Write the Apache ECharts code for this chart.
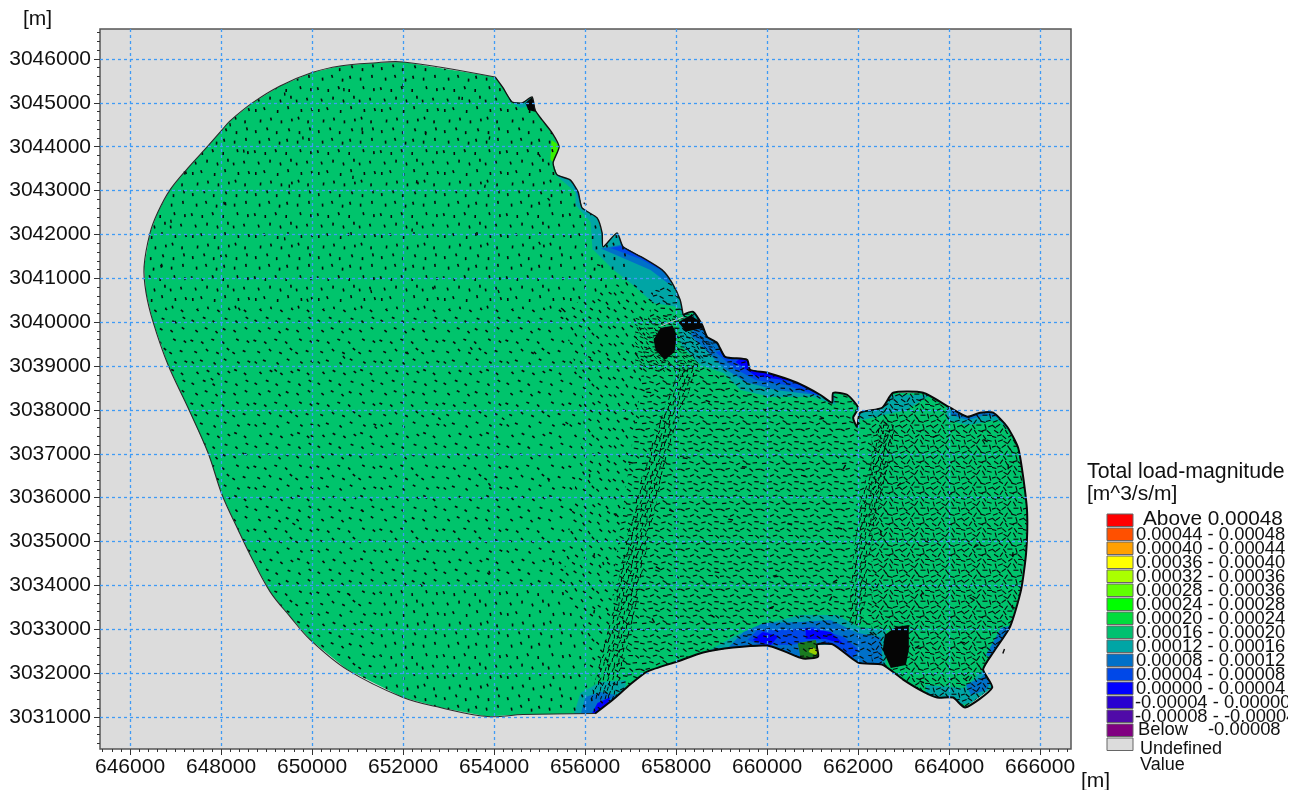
<!DOCTYPE html>
<html><head><meta charset="utf-8">
<style>html,body{margin:0;padding:0;background:#fff}#c{width:1298px;height:790px;filter:blur(0.35px)}</style>
<script src="https://cdn.jsdelivr.net/npm/echarts@6/dist/echarts.min.js"></script>
</head><body><div id="c"></div>
<script>
const xTicks=[646000,648000,650000,652000,654000,656000,658000,660000,662000,664000,666000];
const yTicks=[3031000,3032000,3033000,3034000,3035000,3036000,3037000,3038000,3039000,3040000,3041000,3042000,3043000,3044000,3045000,3046000];
const legendLabels=['0.00044 - 0.00048','0.00040 - 0.00044','0.00036 - 0.00040','0.00032 - 0.00036','0.00028 - 0.00036','0.00024 - 0.00028','0.00020 - 0.00024','0.00016 - 0.00020','0.00012 - 0.00016','0.00008 - 0.00012','0.00004 - 0.00008','0.00000 - 0.00004','-0.00004 - 0.00000','-0.00008 - -0.00004'];
const legendColors=['#FF0000','#FF5000','#FFA000','#FFFF00','#AAFF00','#60FF00','#00FF00','#00DC3C','#00C070','#00A5A5','#0070C8','#0048E8','#0000FF','#2800D0','#500AA8','#800080','#DCDCDC'];
const C_MAIN='#00C46C',C_TEAL='#00A5A5',C_B70='#0070C8',C_B48='#0048E8',C_B00='#0000FF';

const westCoast=[[654023,3045590],[652001,3045932],[651341,3045909],[650616,3045841],[650000,3045690],[649297,3045385],[648704,3045010],[648198,3044590],[648022,3044383],[647714,3044018],[647275,3043517],[646879,3043016],[646615,3042515],[646440,3042036],[646308,3041262],[646352,3040669],[646506,3040009],[646835,3039029],[647275,3038050],[647714,3037025],[648022,3036068],[648374,3035271],[648638,3034701],[649077,3033858],[649517,3033289],[649956,3032765],[650770,3032081],[652001,3031444],[652814,3031216],[653847,3031011],[654638,3031056],[656221,3031079]];
const southCoast=[[656221,3031079],[656616,3031398],[656990,3031740],[657364,3032036],[658023,3032264],[658595,3032469],[659254,3032583],[660001,3032628],[660397,3032491],[660793,3032332],[661122,3032378],[661100,3032651],[661452,3032651],[662001,3032241],[662529,3032195],[662991,3031854],[663431,3031580],[663739,3031444],[664091,3031444],[664353,3031216],[664947,3031671],[664749,3032081],[664969,3032469],[665342,3033061],[665584,3033904],[665694,3034747],[665716,3035658],[665628,3036478],[665518,3037139],[665277,3037617],[664969,3037936],[664683,3037936],[664397,3037845],[664024,3038050],[663431,3038391],[662771,3038391],[662529,3038050],[662045,3037936],[661979,3037617],[661892,3037822],[662001,3038050],[661760,3038346],[661452,3038391],[661430,3038164],[661166,3038346],[660661,3038619],[660001,3038847],[659628,3038915],[659562,3039143],[659078,3039212],[658902,3039530],[658682,3039667],[658572,3039941],[658375,3040237],[658155,3040168]];
const northCoast=[[658155,3040168],[658089,3040510],[657913,3040897],[657693,3041193],[657276,3041467],[656836,3041717],[656704,3042036],[656397,3041717],[656375,3042036],[656265,3042378],[655935,3042606],[655847,3042970],[655671,3043244],[655385,3043358],[655298,3043631],[655429,3043995],[655276,3044314],[655056,3044610],[654902,3044838],[654836,3045134],[654616,3044998],[654396,3045020],[654199,3045339],[654023,3045590]];

const coastBands=[
 [C_TEAL,[[656186,3041645],[656626,3041190],[657000,3040894],[657506,3040438],[658034,3040346],[658166,3040095],[658540,3040505],[658100,3041873],[656340,3041987]]],
 [C_B70,[[656274,3041714],[656934,3041417],[657440,3041189],[657814,3040893],[658320,3040961],[657660,3041873],[656560,3042101]]],
 [C_B48,[[656560,3041691],[657220,3041440],[657660,3041189],[658100,3041189],[657440,3041873]]],
 [C_TEAL,[[655350,3043355],[655790,3042968],[655790,3042671],[656120,3042284],[656164,3041645],[656780,3041759],[656560,3042671],[656120,3043469]]],
 [C_B70,[[655724,3043173],[655900,3042717],[656230,3042785],[656010,3043355]]],
 [C_TEAL,[[654316,3045065],[654580,3044883],[654800,3044929],[654800,3045293],[654470,3045293]]],
 [C_TEAL,[[658056,3040004],[658100,3039479],[658540,3039024],[659046,3038841],[659420,3038454],[660080,3038294],[661004,3038294],[661510,3038111],[661400,3038909],[659420,3039593],[658540,3040277]]],
 [C_B70,[[658320,3039707],[658650,3039365],[659046,3038955],[659530,3038636],[660190,3038453],[661070,3038339],[661400,3038909],[659420,3039593],[658540,3040163]]],
 [C_B48,[[658870,3039319],[659266,3038955],[659750,3038682],[660410,3038568],[661136,3038316],[661400,3038909],[659640,3039479]]],
 [C_B00,[[659310,3039092],[659750,3038773],[660520,3038659],[661136,3038362],[661290,3038681],[659640,3039365]]],
 [C_TEAL,[[658540,3032411],[659420,3032913],[660014,3033141],[660740,3033323],[661554,3033323],[661994,3033050],[662610,3032982],[662610,3032069],[658540,3031841]]],
 [C_B70,[[659090,3032526],[659486,3032936],[659926,3033141],[660740,3033164],[661400,3033209],[661994,3032913],[662500,3032822],[662544,3032115],[659090,3031841]]],
 [C_B48,[[659574,3032753],[659794,3032981],[660300,3032981],[661026,3033050],[661686,3032822],[662016,3032525],[661840,3032297],[661180,3032753],[660520,3032640],[659860,3032640]]],
 [C_B00,[[659684,3032753],[659904,3032936],[660256,3032845],[660080,3032640]]],
 [C_B00,[[660850,3033027],[661400,3032936],[661700,3032650],[661290,3032780],[660850,3032780]]],
 [C_TEAL,[[655746,3031043],[655900,3031545],[656340,3031796],[656890,3031841],[656890,3030929]]],
 [C_B70,[[655900,3031043],[656010,3031454],[656340,3031568],[656670,3031500],[656450,3030929]]],
 [C_B00,[[656120,3031020],[656274,3031317],[656560,3031454],[656340,3030929]]],
 [C_TEAL,[[663490,3031727],[664326,3031659],[664700,3032024],[664920,3032298],[665140,3032184],[664920,3031386],[663490,3031158]]],
 [C_B70,[[664370,3031727],[664700,3031887],[664920,3032184],[665096,3032115],[664810,3031613],[664480,3031500]]],
 [C_TEAL,[[663952,3037769],[664414,3037656],[665074,3037769],[665360,3037473],[665470,3037769],[664920,3038225],[663930,3038339]]],
 [C_B70,[[664040,3037883],[664414,3037769],[664810,3037883],[665140,3037815],[665250,3038111],[664040,3038225]]],
 [C_TEAL,[[662104,3037770],[663050,3037997],[663600,3038339],[662500,3038339],[661950,3037883]]],
 [C_B70,[[665404,3033095],[665140,3033027],[664810,3032412],[665030,3032298]]],
 ['#38F000',[[655262,3044153],[655460,3044017],[655372,3043584],[655240,3043700]]],
 ['#1A7A20',[[660674,3032685],[661070,3032753],[661180,3032297],[660740,3032342]]],
 ['#9ACD00',[[660960,3032594],[661136,3032525],[661070,3032411],[660916,3032480]]]
];
const denseBlots=[
 [[657506,3039600],[657660,3039870],[657924,3039916],[658012,3039710],[657968,3039320],[657748,3039140],[657550,3039370]],
 [[658056,3040004],[658320,3040160],[658540,3040004],[658584,3039870],[658210,3039780]],
 [[662588,3032867],[662830,3033050],[663116,3033096],[663116,3032525],[663050,3032183],[662720,3032115],[662544,3032525]],
 [[654690,3044998],[654836,3045134],[654924,3044792],[654750,3044837]]
];
const seamLine=[[657660,3039914],[658166,3040120]];

/* hatch zones: polygon, tile scale, dash length, base angle, angle-spread list */
const calm=[0,8,-6,12,-10,4,-3,9,-12,6,-5];
const mix=[0,15,-12,25,-20,8,-30,18,-8,35,-22];
const wild=[0,30,-25,50,-40,15,-60,35,-18,70,-45];
const hatchZones=[
 {pts:[[645000,3046500],[657000,3046500],[657000,3041000],[655500,3040300],[645000,3040300]],s:0.95,len:3,a:98,sp:calm,w:1.6},
 {pts:[[645000,3040300],[655500,3040300],[656000,3038000],[655500,3034000],[651500,3034000],[651500,3030500],[645000,3030500]],s:0.95,len:3,a:145,sp:calm,w:1.6},
 {pts:[[651500,3034000],[655500,3034000],[656000,3033000],[656300,3030500],[651500,3030500]],s:0.95,len:3,a:105,sp:calm,w:1.6},
 {pts:[[655500,3040300],[657000,3041000],[657500,3040700],[657000,3037000],[656600,3034000],[656700,3030500],[656300,3030500],[656000,3033000],[655500,3034000],[656000,3038000]],s:0.78,len:3.5,a:135,sp:calm,w:1.4},
 {pts:[[657500,3040700],[658000,3041000],[662300,3038800],[662300,3030500],[656700,3030500],[656600,3034000],[657000,3037000]],s:0.6,len:4.5,a:170,sp:mix,w:1.2},
 {pts:[[662300,3038800],[666500,3038800],[666500,3030500],[662300,3030500]],s:0.47,len:5,a:165,sp:wild,w:1.1},
 {pts:[[658100,3039032],[658496,3039032],[657836,3037096],[657440,3035272],[657110,3033448],[656670,3031398],[656120,3031398],[656604,3033448],[656956,3035272],[657396,3037096]],s:0.42,len:4,a:75,sp:calm,w:1},
 {pts:[[662456,3037656],[662830,3037656],[662500,3035956],[662236,3034588],[662104,3033106],[661796,3033106],[661884,3034588],[662060,3035956]],s:0.42,len:4,a:75,sp:calm,w:1},
 {pts:[[657100,3040100],[658500,3040200],[658900,3039300],[658100,3038800],[657100,3039000]],s:0.42,len:4,a:150,sp:mix,w:1}
];
const hatchSpots=[[4,6],[16,3],[26,7],[39,4],[50,7],[61,3],[8,17],[18,14],[29,18],[37,15],[48,17],[60,14],[3,27],[14,29],[25,26],[36,29],[51,26],[62,28],[7,39],[19,37],[30,40],[41,36],[47,40],[58,38],[4,50],[13,48],[27,51],[38,47],[52,50],[63,49],[9,61],[20,59],[31,62],[42,60],[49,58],[59,62]];

/* sparse hand-read vector samples: x, y, screen angle in degrees */
const vecX=[648200,649400,650700,652000,653300,647200,648500,649800,651100,652500,653900,655000,646900,648100,649500,650900,652300,653800,655200,656000,646700,648000,649400,650800,652200,653600,655000,656300,647000,648400,649900,651300,652700,654100,655500,647800,649200,650700,652100,653500,654900,656100,648500,650000,651400,652800,654200,655600,656900,649600,651100,652500,653900,655200,656100,650800,652400,653900,655300,656200,657400,658700,660000,661200,657000,658200,659500,660800,661700,656700,657900,659200,660500,661600,656400,657600,658900,660200,661500,656200,657500,658800,660100,661400,662600,663700,664800,665300,662900,664000,665100,662500,663500,664600,665400,662400,663400,664500,665400,662300,663300,664300,665200,663400,664400];
const vecY=[3044500,3045200,3045300,3045400,3045100,3043400,3043900,3044200,3044400,3044300,3044200,3043800,3042300,3042700,3043100,3043300,3043200,3043100,3042800,3042700,3041300,3041500,3041900,3042000,3042100,3042000,3041800,3041300,3040000,3040300,3040500,3040700,3040800,3040700,3040300,3038700,3038900,3039200,3039300,3039400,3039300,3039200,3037000,3037400,3037600,3037800,3037800,3037700,3037800,3035400,3035700,3036000,3036300,3036400,3036500,3033800,3034000,3034300,3034500,3034700,3038400,3038200,3038000,3037800,3036800,3036900,3036700,3036500,3036700,3035600,3035700,3035500,3035400,3035300,3034500,3034400,3034300,3034200,3034100,3033400,3033200,3033300,3033500,3033700,3037700,3037400,3037300,3036700,3036300,3036100,3036000,3035200,3035000,3034900,3034700,3034000,3033800,3033700,3033500,3032900,3032600,3032700,3032500,3031800,3031900];
const vecA=[100,95,92,88,85,102,98,95,90,85,80,120,100,98,92,88,82,78,130,150,110,105,98,90,85,95,120,160,125,120,112,105,100,110,140,140,138,132,128,130,135,150,148,145,142,138,140,145,170,150,146,140,130,110,95,150,135,115,95,80,175,160,170,10,165,170,175,170,60,130,160,170,175,165,110,150,170,5,30,80,120,150,20,60,140,20,150,90,45,120,175,100,160,30,85,120,60,150,100,140,30,170,70,160,40];

const DX0=645340,DX1=666680,DY0=3030271,DY1=3046683;
const xMinor=[],yMinor=[];
for(let v=645400;v<=DX1;v+=200)xMinor.push(v);
for(let v=3030400;v<=DY1;v+=200)yMinor.push(v);

function makeTile(z){
 const n=Math.round(66*z.s),cv=document.createElement('canvas');cv.width=n;cv.height=n;
 const g=cv.getContext('2d');g.strokeStyle='#0a0a0a';g.lineWidth=z.w;g.lineCap='butt';
 hatchSpots.forEach((p,i)=>{
  const a=(z.a+z.sp[i%z.sp.length])*Math.PI/180,x=p[0]*z.s,y=p[1]*z.s,h=z.len/2;
  g.beginPath();g.moveTo(x-h*Math.cos(a),y+h*Math.sin(a));g.lineTo(x+h*Math.cos(a),y-h*Math.sin(a));g.stroke();
 });
 return cv;
}
const domain=westCoast.concat(southCoast,northCoast);
const tiles=hatchZones.map(makeTile);
const pts=(api,list)=>list.map(p=>api.coord(p));

function polySeries(z,list,styleOf,clip){
 return {type:'custom',coordinateSystem:'cartesian2d',z:z,silent:true,animation:false,clip:true,
  data:list.map((_,i)=>[xTicks[0],yTicks[0],i]),encode:{x:0,y:1},
  renderItem(params,api){
   const i=api.value(2),e=list[i],r=styleOf(e,i);
   const o={type:'polygon',shape:{points:pts(api,r.pts)},style:r.style};
   if(clip)o.clipPath={type:'polygon',shape:{points:pts(api,domain)}};
   return o;
  }};
}
function lineSeries(z,list,style){
 return {type:'custom',coordinateSystem:'cartesian2d',z:z,silent:true,animation:false,clip:true,
  data:list.map((_,i)=>[xTicks[0],yTicks[0],i]),encode:{x:0,y:1},
  renderItem(params,api){const e=list[api.value(2)];
   return {type:'polyline',shape:{points:pts(api,e.p),smooth:e.smooth||0},style:Object.assign({fill:null},e.s||style)};}};
}

const series=[
 polySeries(1,[domain],e=>({pts:e,style:{fill:C_MAIN}})),
 polySeries(1,coastBands,e=>({pts:e[1],style:{fill:e[0]}}),true),
 polySeries(1,hatchZones,(e,i)=>({pts:e.pts,style:{fill:{image:tiles[i],repeat:'repeat'}}}),true),
 {type:'custom',coordinateSystem:'cartesian2d',z:1,silent:true,animation:false,clip:true,
  data:vecX.map((x,i)=>[x,vecY[i],vecA[i]]),encode:{x:0,y:1},
  renderItem(params,api){
   const c=api.coord([api.value(0),api.value(1)]),a=api.value(2)*Math.PI/180,h=api.value(0)>656500?2.4:1.6;
   return {type:'line',shape:{x1:c[0]-h*Math.cos(a),y1:c[1]+h*Math.sin(a),x2:c[0]+h*Math.cos(a),y2:c[1]-h*Math.sin(a)},style:{stroke:'#0a0a0a',lineWidth:1.4}};
  }},
 polySeries(1,denseBlots,e=>({pts:e,style:{fill:'#050505'}})),
 lineSeries(1,[{p:seamLine,s:{stroke:'#bdbdbd',lineWidth:1}},{p:westCoast,s:{stroke:'#2a2a2a',lineWidth:1.1},smooth:0.35},{p:northCoast,s:{stroke:'#111',lineWidth:1.4},smooth:0.2},{p:southCoast,s:{stroke:'#080808',lineWidth:2},smooth:0.2}])
];

const FONT='"Liberation Sans",Arial,sans-serif';
const txt=(text,x,y,size)=>({type:'text',silent:true,z:20,style:{text,x,y,font:size+'px '+FONT,fill:'#111',textVerticalAlign:'middle'}});
const graphics=[txt('[m]',23,19,21),txt('[m]',1081,781,21),txt('Total load-magnitude',1087,472,21.3),txt('[m^3/s/m]',1087,494,21)];
legendColors.forEach((col,i)=>{
 graphics.push({type:'rect',silent:true,z:19,shape:{x:1107,y:514+i*14,width:26,height:12.5},style:{fill:col,stroke:'#666',lineWidth:1}});
});
graphics.push(txt('Above 0.00048',1143,519.5,20.8));
legendLabels.forEach((t,i)=>graphics.push(txt(t,t[0]==='-'?1135:1136,535+i*14,18.4)));
graphics.push(txt('Below',1138,730,18.4),txt('-0.00008',1208,730,18.4),txt('Undefined',1140,749,18),txt('Value',1140,765,18));
graphics.push({type:'rect',silent:true,z:25,shape:{x:1288,y:500,width:10,height:250},style:{fill:'#fff'}});

const axisBase={axisLine:{show:false},splitLine:{show:false},axisLabel:{show:false},axisTick:{show:false}};
const tickStyle={lineStyle:{color:'#333',width:1}};
const gridLine={show:true,lineStyle:{color:'#3F9BF5',type:[3,3],width:1.3}};
const option={
 animation:false,backgroundColor:'#fff',
 grid:{left:100,top:29,right:227,bottom:41,show:true,z:0,backgroundColor:'#DCDCDC',borderColor:'#555',borderWidth:1.5},
 xAxis:[
  {type:'value',min:DX0,max:DX1,position:'bottom',z:3,axisLine:{show:false},splitLine:gridLine,
   axisTick:Object.assign({show:true,length:6,customValues:xTicks},tickStyle),
   axisLabel:{show:true,customValues:xTicks,margin:8,fontSize:21,fontFamily:FONT,color:'#111',formatter:v=>String(v)}},
  Object.assign({},axisBase,{type:'value',min:DX0,max:DX1,position:'bottom',z:3,
   axisTick:Object.assign({show:true,length:3,customValues:xMinor},tickStyle)})
 ],
 yAxis:[
  {type:'value',min:DY0,max:DY1,position:'left',z:3,axisLine:{show:false},splitLine:gridLine,
   axisTick:Object.assign({show:true,length:6,customValues:yTicks},tickStyle),
   axisLabel:{show:true,customValues:yTicks,margin:9,fontSize:21,fontFamily:FONT,color:'#111',formatter:v=>String(v)}},
  Object.assign({},axisBase,{type:'value',min:DY0,max:DY1,position:'left',z:3,
   axisTick:Object.assign({show:true,length:3,customValues:yMinor},tickStyle)})
 ],
 series:series,
 graphic:{elements:graphics}
};
echarts.init(document.getElementById('c'),null,{renderer:'canvas'}).setOption(option);
</script></body></html>
